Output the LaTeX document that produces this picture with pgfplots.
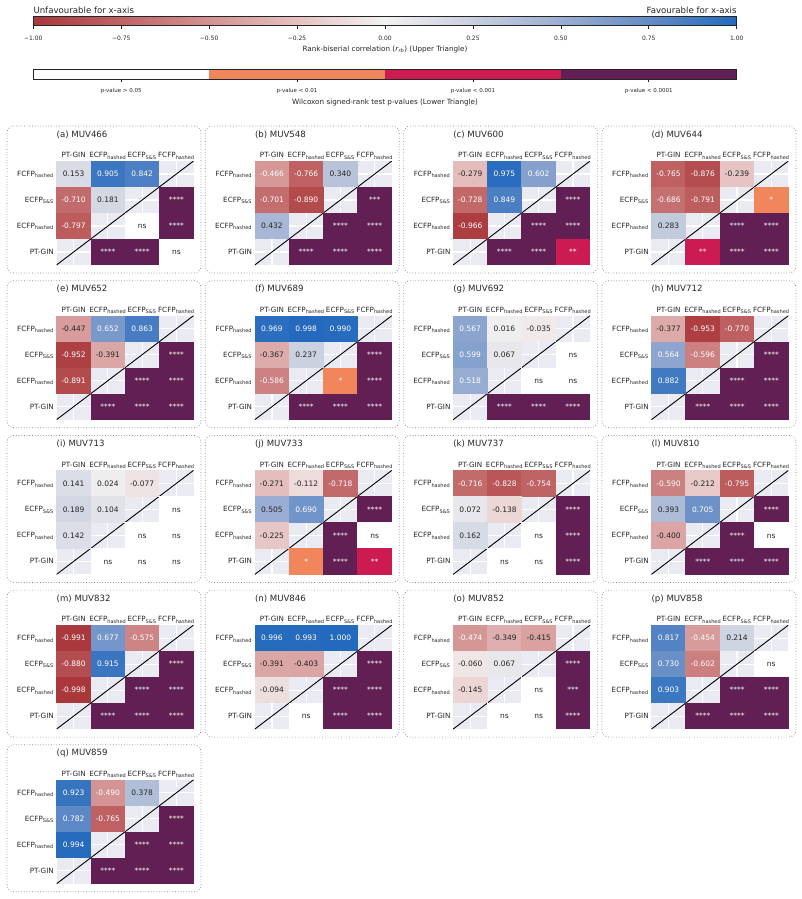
\documentclass[border=0pt]{standalone}
\usepackage{fontspec}
\setmainfont{DejaVu Sans}
\usepackage{pgfplots}
\pgfplotsset{compat=1.18}
\definecolor{bgc}{HTML}{EAEAF2}
\definecolor{td}{HTML}{262626}
\colorlet{tw}{white}
\definecolor{pOrange}{RGB}{241,134,92}
\definecolor{pRed}{RGB}{203,27,80}
\definecolor{pPurple}{RGB}{97,31,83}
\newcommand\cellfont{\fontsize{7.5}{9}\selectfont}
\newcommand\ticfont{\fontsize{7.2}{9}\selectfont}
\newcommand\titfont{\fontsize{8.6}{10}\selectfont}
\tikzset{panelframe/.style={draw=black!50, dotted, line width=0.7pt, rounded corners=7pt}}
\pgfplotsset{
  colormap={vlagr}{rgb255=(169,55,59) rgb255=(192,100,101) rgb255=(211,146,145) rgb255=(229,194,193) rgb255=(243,241,241) rgb255=(200,207,222) rgb255=(155,174,210) rgb255=(100,140,198) rgb255=(35,105,189)},
  hm/.style={anchor=north west, scale only axis, width=137pt, height=104pt,
    xmin=-0.5, xmax=3.5, ymin=-0.5, ymax=3.5,
    axis background/.style={fill=bgc},
    axis line style={draw=none},
    xtick={0,1,2,3}, ytick={0,1,2,3},
    xticklabels={PT-GIN,ECFP\textsubscript{hashed},ECFP\textsubscript{S\&S},FCFP\textsubscript{hashed}},
    yticklabels={PT-GIN,ECFP\textsubscript{hashed},ECFP\textsubscript{S\&S},FCFP\textsubscript{hashed}},
    xticklabel pos=right, xtick pos=right, ytick pos=left,
    major tick length=0pt,
    grid=major, major grid style={white, line width=1.2pt},
    xticklabel style={anchor=base, yshift=3.3pt, inner sep=0pt, font=\ticfont, text=td},
    yticklabel style={anchor=base east, xshift=-2.5pt, yshift=-2.5pt, inner sep=0pt, font=\ticfont, text=td},
    title style={at={(0,1)}, anchor=base west, yshift=17.9pt, inner sep=0pt, font=\titfont, text=td},
    colormap name=vlagr, point meta min=-1, point meta max=1},
  cplot/.style={scatter, only marks, mark=square*, mark size=13.15pt,
    mark options={xscale=1.3173, draw opacity=0},
    point meta=explicit,
    visualization depends on={value \thisrow{c}\as\tcol},
    nodes near coords*={\pgfmathprintnumber[fixed,fixed zerofill,precision=3,assume math mode=true]{\pgfplotspointmeta}},
    nodes near coords style={anchor=base, yshift=-2.6pt, inner sep=0pt, font=\cellfont, text=\tcol}},
  pplot/.style={scatter, only marks, mark=square*, mark size=13.15pt,
    mark options={xscale=1.3173, draw opacity=0},
    point meta=explicit symbolic,
    scatter/classes={n={white}, o={pOrange}, r={pRed}, p={pPurple}},
    visualization depends on={value \thisrow{l}\as\plbl},
    visualization depends on={value \thisrow{c}\as\tcol},
    nodes near coords*={\plbl},
    nodes near coords style={anchor=base, yshift=-2.6pt, inner sep=0pt, font=\cellfont, text=\tcol}},
  diag/.style={black, line width=0.9pt}
}
\newcommand{\panel}[5]{%
  \draw[panelframe] ({#1pt},{-#2pt}) rectangle ++(194pt,-147pt);
  \begin{axis}[hm, at={({#1pt+49.5pt},{-#2pt-35pt})}, title={#3}]
    \addplot[cplot] table[row sep=\\, meta=v]{x y v c\\ #4};
    \addplot[pplot] table[row sep=\\, meta=k]{x y k l c\\ #5};
    \addplot[diag] coordinates {(-0.5,-0.5) (3.5,3.5)};
  \end{axis}}
\begin{document}
\begin{tikzpicture}
\path[use as bounding box] (0,0) rectangle (802pt,-899pt);
% ---- correlation colour bar
\begin{axis}[anchor=north west, at={(33.3pt,-16pt)}, scale only axis, width=703.4pt, height=9.7pt,
  xmin=-1, xmax=1, ymin=0, ymax=1, ytick=\empty, clip=false,
  xtick={-1,-0.75,-0.5,-0.25,0,0.25,0.5,0.75,1},
  xticklabels={−1.00,−0.75,−0.50,−0.25,0.00,0.25,0.50,0.75,1.00},
  xtick pos=left, tick align=outside, major tick length=3pt,
  tick style={td, line width=0.6pt}, axis line style={td, line width=0.7pt},
  xticklabel style={font=\fontsize{6}{7}\selectfont, text=td, anchor=north, inner sep=0pt, yshift=-6.8pt},
  xlabel={Rank-biserial correlation (\textit{r}\textsubscript{\textit{rb}}) (Upper Triangle)},
  xlabel style={at={(0.5,0)}, anchor=center, yshift=-23.6pt, inner sep=0pt, font=\fontsize{7.2}{8}\selectfont, text=td},
  axis on top, colormap name=vlagr]
\addplot[surf, shader=interp, point meta=x, mesh/cols=9] coordinates {
 (-1,0) (-0.75,0) (-0.5,0) (-0.25,0) (0,0) (0.25,0) (0.5,0) (0.75,0) (1,0)
 (-1,1) (-0.75,1) (-0.5,1) (-0.25,1) (0,1) (0.25,1) (0.5,1) (0.75,1) (1,1)};
\node[anchor=base west, inner sep=0pt, yshift=2.9pt, font=\titfont, text=td] at (rel axis cs:0,1) {Unfavourable for x-axis};
\node[anchor=base east, inner sep=0pt, yshift=2.9pt, font=\titfont, text=td] at (rel axis cs:1,1) {Favourable for x-axis};
\end{axis}
% ---- p-value colour bar
\begin{axis}[anchor=north west, at={(33.3pt,-69.3pt)}, scale only axis, width=703.4pt, height=10pt,
  xmin=0, xmax=4, ymin=0, ymax=1, ytick=\empty,
  xtick={0.5,1.5,2.5,3.5},
  xticklabels={p-value > 0.05,p-value < 0.01,p-value < 0.001,p-value < 0.0001},
  xtick pos=left, tick align=outside, major tick length=3pt,
  tick style={td, line width=0.6pt}, axis line style={td, line width=0.7pt},
  xticklabel style={font=\fontsize{5.5}{6.5}\selectfont, text=td, anchor=north, inner sep=0pt, yshift=-6.3pt},
  xlabel={Wilcoxon signed-rank test p-values (Lower Triangle)},
  xlabel style={at={(0.5,0)}, anchor=center, yshift=-23.4pt, inner sep=0pt, font=\fontsize{7.2}{8}\selectfont, text=td},
  axis on top]
\addplot[fill=white, draw=none] coordinates {(0,1) (1,1)} \closedcycle;
\addplot[fill=pOrange, draw=none] coordinates {(1,1) (2,1)} \closedcycle;
\addplot[fill=pRed, draw=none] coordinates {(2,1) (3,1)} \closedcycle;
\addplot[fill=pPurple, draw=none] coordinates {(3,1) (4,1)} \closedcycle;
\end{axis}
% ---- panels
\panel{7}{126}{(a) MUV466}
 {0 3 0.153 td\\ 1 3 0.905 tw\\ 2 3 0.842 tw\\ 0 2 -0.710 tw\\ 1 2 0.181 td\\ 0 1 -0.797 tw\\}
 {3 2 p **** tw\\ 2 1 n ns td\\ 3 1 p **** tw\\ 1 0 p **** tw\\ 2 0 p **** tw\\ 3 0 n ns td\\}
\panel{205.3}{126}{(b) MUV548}
 {0 3 -0.466 tw\\ 1 3 -0.766 tw\\ 2 3 0.340 td\\ 0 2 -0.701 tw\\ 1 2 -0.890 tw\\ 0 1 0.432 td\\}
 {3 2 p *** tw\\ 2 1 p **** tw\\ 3 1 p **** tw\\ 1 0 p **** tw\\ 2 0 p **** tw\\ 3 0 p **** tw\\}
\panel{403.6}{126}{(c) MUV600}
 {0 3 -0.279 td\\ 1 3 0.975 tw\\ 2 3 0.602 tw\\ 0 2 -0.728 tw\\ 1 2 0.849 tw\\ 0 1 -0.966 tw\\}
 {3 2 p **** tw\\ 2 1 p **** tw\\ 3 1 p **** tw\\ 1 0 p **** tw\\ 2 0 p **** tw\\ 3 0 r ** tw\\}
\panel{601.9}{126}{(d) MUV644}
 {0 3 -0.765 tw\\ 1 3 -0.876 tw\\ 2 3 -0.239 td\\ 0 2 -0.686 tw\\ 1 2 -0.791 tw\\ 0 1 0.283 td\\}
 {3 2 o * tw\\ 2 1 p **** tw\\ 3 1 p **** tw\\ 1 0 r ** tw\\ 2 0 p **** tw\\ 3 0 p **** tw\\}
\panel{7}{280.7}{(e) MUV652}
 {0 3 -0.447 td\\ 1 3 0.652 tw\\ 2 3 0.863 tw\\ 0 2 -0.952 tw\\ 1 2 -0.391 td\\ 0 1 -0.891 tw\\}
 {3 2 p **** tw\\ 2 1 p **** tw\\ 3 1 p **** tw\\ 1 0 p **** tw\\ 2 0 p **** tw\\ 3 0 p **** tw\\}
\panel{205.3}{280.7}{(f) MUV689}
 {0 3 0.969 tw\\ 1 3 0.998 tw\\ 2 3 0.990 tw\\ 0 2 -0.367 td\\ 1 2 0.237 td\\ 0 1 -0.586 tw\\}
 {3 2 p **** tw\\ 2 1 o * tw\\ 3 1 p **** tw\\ 1 0 p **** tw\\ 2 0 p **** tw\\ 3 0 p **** tw\\}
\panel{403.6}{280.7}{(g) MUV692}
 {0 3 0.567 tw\\ 1 3 0.016 td\\ 2 3 -0.035 td\\ 0 2 0.599 tw\\ 1 2 0.067 td\\ 0 1 0.518 tw\\}
 {3 2 n ns td\\ 2 1 n ns td\\ 3 1 n ns td\\ 1 0 p **** tw\\ 2 0 p **** tw\\ 3 0 p **** tw\\}
\panel{601.9}{280.7}{(h) MUV712}
 {0 3 -0.377 td\\ 1 3 -0.953 tw\\ 2 3 -0.770 tw\\ 0 2 0.564 tw\\ 1 2 -0.596 tw\\ 0 1 0.882 tw\\}
 {3 2 p **** tw\\ 2 1 p **** tw\\ 3 1 p **** tw\\ 1 0 p **** tw\\ 2 0 p **** tw\\ 3 0 p **** tw\\}
\panel{7}{435.4}{(i) MUV713}
 {0 3 0.141 td\\ 1 3 0.024 td\\ 2 3 -0.077 td\\ 0 2 0.189 td\\ 1 2 0.104 td\\ 0 1 0.142 td\\}
 {3 2 n ns td\\ 2 1 n ns td\\ 3 1 n ns td\\ 1 0 n ns td\\ 2 0 n ns td\\ 3 0 n ns td\\}
\panel{205.3}{435.4}{(j) MUV733}
 {0 3 -0.271 td\\ 1 3 -0.112 td\\ 2 3 -0.718 tw\\ 0 2 0.505 td\\ 1 2 0.690 tw\\ 0 1 -0.225 td\\}
 {3 2 p **** tw\\ 2 1 p **** tw\\ 3 1 n ns td\\ 1 0 o * tw\\ 2 0 p **** tw\\ 3 0 r ** tw\\}
\panel{403.6}{435.4}{(k) MUV737}
 {0 3 -0.716 tw\\ 1 3 -0.828 tw\\ 2 3 -0.754 tw\\ 0 2 0.072 td\\ 1 2 -0.138 td\\ 0 1 0.162 td\\}
 {3 2 p **** tw\\ 2 1 n ns td\\ 3 1 p **** tw\\ 1 0 n ns td\\ 2 0 n ns td\\ 3 0 p **** tw\\}
\panel{601.9}{435.4}{(l) MUV810}
 {0 3 -0.590 tw\\ 1 3 -0.212 td\\ 2 3 -0.795 tw\\ 0 2 0.393 td\\ 1 2 0.705 tw\\ 0 1 -0.400 td\\}
 {3 2 p **** tw\\ 2 1 p **** tw\\ 3 1 n ns td\\ 1 0 p **** tw\\ 2 0 p **** tw\\ 3 0 p **** tw\\}
\panel{7}{590.1}{(m) MUV832}
 {0 3 -0.991 tw\\ 1 3 0.677 tw\\ 2 3 -0.575 tw\\ 0 2 -0.880 tw\\ 1 2 0.915 tw\\ 0 1 -0.998 tw\\}
 {3 2 p **** tw\\ 2 1 p **** tw\\ 3 1 p **** tw\\ 1 0 p **** tw\\ 2 0 p **** tw\\ 3 0 p **** tw\\}
\panel{205.3}{590.1}{(n) MUV846}
 {0 3 0.996 tw\\ 1 3 0.993 tw\\ 2 3 1.000 tw\\ 0 2 -0.391 td\\ 1 2 -0.403 td\\ 0 1 -0.094 td\\}
 {3 2 p **** tw\\ 2 1 p **** tw\\ 3 1 p **** tw\\ 1 0 n ns td\\ 2 0 p **** tw\\ 3 0 p **** tw\\}
\panel{403.6}{590.1}{(o) MUV852}
 {0 3 -0.474 tw\\ 1 3 -0.349 td\\ 2 3 -0.415 td\\ 0 2 -0.060 td\\ 1 2 0.067 td\\ 0 1 -0.145 td\\}
 {3 2 p **** tw\\ 2 1 n ns td\\ 3 1 p *** tw\\ 1 0 n ns td\\ 2 0 n ns td\\ 3 0 p **** tw\\}
\panel{601.9}{590.1}{(p) MUV858}
 {0 3 0.817 tw\\ 1 3 -0.454 tw\\ 2 3 0.214 td\\ 0 2 0.730 tw\\ 1 2 -0.602 tw\\ 0 1 0.903 tw\\}
 {3 2 n ns td\\ 2 1 p **** tw\\ 3 1 p **** tw\\ 1 0 p **** tw\\ 2 0 p **** tw\\ 3 0 p **** tw\\}
\panel{7}{744.8}{(q) MUV859}
 {0 3 0.923 tw\\ 1 3 -0.490 tw\\ 2 3 0.378 td\\ 0 2 0.782 tw\\ 1 2 -0.765 tw\\ 0 1 0.994 tw\\}
 {3 2 p **** tw\\ 2 1 p **** tw\\ 3 1 p **** tw\\ 1 0 p **** tw\\ 2 0 p **** tw\\ 3 0 p **** tw\\}
\end{tikzpicture}
\end{document}
